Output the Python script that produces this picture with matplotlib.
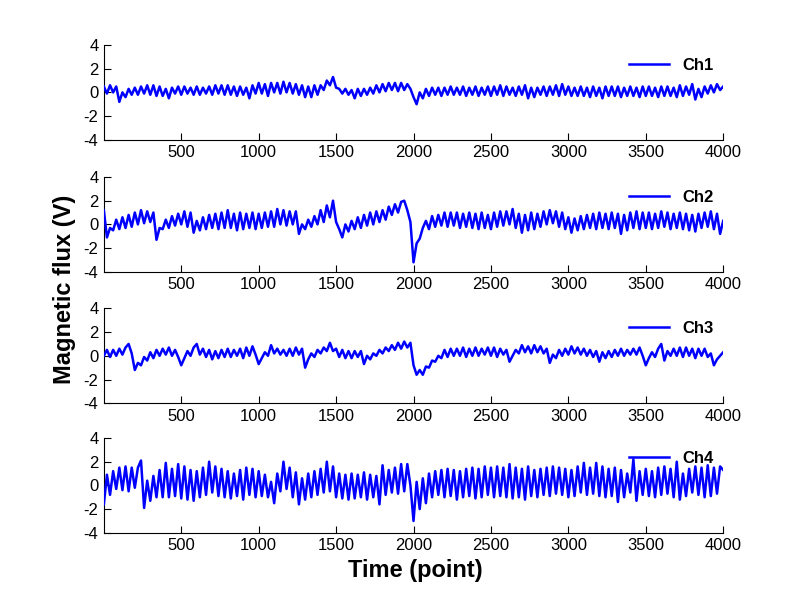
import numpy as np
import matplotlib
matplotlib.use("Agg")
import matplotlib.pyplot as plt

TIME = np.arange(0, 4001, 20)

CH1 = [
    0.5, -0.1, 0.6, 0.0, 0.5, -0.8, 0.0, -0.4, 0.3, -0.2,
    0.4, -0.2, 0.5, -0.1, 0.6, -0.2, 0.6, -0.3, 0.5, -0.3,
    0.3, -0.5, 0.4, -0.1, 0.5, -0.2, 0.5, -0.1, 0.4, -0.2,
    0.5, -0.2, 0.4, -0.1, 0.5, -0.2, 0.6, -0.1, 0.6, -0.2,
    0.6, -0.2, 0.5, -0.3, 0.5, -0.2, 0.4, -0.5, 0.6, -0.1,
    0.8, -0.1, 0.7, -0.3, 0.8, 0.0, 0.8, -0.1, 0.9, 0.0,
    0.8, -0.1, 0.7, -0.2, 0.6, -0.4, 0.5, -0.4, 0.6, -0.2,
    0.6, 0.2, 1.0, 0.6, 1.3, 0.4, 0.3, -0.1, 0.3, -0.2,
    0.2, -0.5, 0.3, -0.3, 0.3, -0.2, 0.4, -0.1, 0.6, 0.0,
    0.7, 0.1, 0.8, 0.2, 0.8, 0.1, 0.8, 0.2, 0.7, 0.3,
    -0.4, -1.0, 0.0, -0.5, 0.3, -0.3, 0.4, -0.2, 0.4, -0.3,
    0.4, -0.2, 0.5, -0.2, 0.4, -0.2, 0.5, -0.3, 0.4, -0.2,
    0.5, -0.3, 0.4, -0.2, 0.5, -0.3, 0.5, -0.2, 0.6, -0.3,
    0.5, -0.2, 0.4, -0.3, 0.5, -0.2, 0.6, -0.5, 0.4, -0.4,
    0.4, -0.2, 0.5, -0.3, 0.5, -0.2, 0.6, -0.3, 0.7, -0.2,
    0.5, -0.3, 0.4, -0.3, 0.5, -0.3, 0.4, -0.4, 0.5, -0.3,
    0.4, -0.5, 0.5, -0.3, 0.5, -0.3, 0.5, -0.4, 0.4, -0.3,
    0.5, -0.3, 0.4, -0.4, 0.5, -0.3, 0.5, -0.3, 0.4, -0.4,
    0.5, -0.3, 0.5, -0.3, 0.4, -0.4, 0.6, -0.3, 0.5, -0.2,
    0.7, -0.6, 0.3, -0.4, 0.5, -0.1, 0.6, 0.0, 0.7, 0.2,
    0.5,
]

CH2 = [
    1.2, -1.1, -0.3, -0.5, 0.4, -0.4, 0.6, -0.3, 0.8, -0.2,
    1.0, 0.0, 1.2, 0.1, 1.1, 0.2, 1.0, -1.3, -0.3, -0.4,
    0.4, -0.3, 0.7, -0.1, 0.9, 0.0, 1.1, -0.2, 1.0, -0.7,
    0.3, -0.5, 0.6, -0.4, 0.8, -0.3, 0.9, -0.4, 1.0, -0.3,
    1.2, -0.3, 0.9, -0.5, 1.0, -0.4, 0.9, -0.3, 1.0, -0.4,
    0.9, -0.3, 1.0, -0.2, 1.1, -0.2, 1.3, 0.0, 1.2, -0.1,
    1.1, 0.0, 1.1, -0.8, 0.0, -0.4, 0.4, -0.2, 0.7, 0.0,
    1.2, 0.2, 1.6, 0.6, 2.0, 0.2, -0.4, -1.1, 0.0, -0.6,
    0.3, -0.4, 0.6, -0.3, 0.8, -0.1, 1.0, 0.0, 1.1, 0.2,
    1.2, 0.4, 1.5, 0.8, 1.7, 1.0, 1.9, 2.0, 1.2, 0.2,
    -3.2, -1.6, -1.2, -0.3, 0.3, -0.4, 0.7, -0.2, 0.8, -0.1,
    1.0, -0.2, 1.0, -0.1, 1.0, -0.3, 0.9, -0.2, 1.0, -0.3,
    0.9, -0.4, 1.0, -0.3, 0.8, -0.4, 1.0, -0.2, 1.1, -0.1,
    1.1, 0.0, 1.3, -0.3, 0.9, -0.7, 0.8, -0.5, 1.0, -0.4,
    0.9, -0.2, 1.1, 0.0, 1.2, 0.1, 1.1, -0.2, 1.0, -0.4,
    0.6, -0.7, 0.5, -0.5, 0.7, -0.4, 0.8, -0.3, 0.9, -0.4,
    1.0, -0.3, 0.9, -0.4, 1.0, -0.3, 0.9, -0.8, 0.8, -0.5,
    1.0, -0.3, 1.1, -0.4, 1.0, -0.3, 1.0, -0.4, 0.9, -0.3,
    1.1, -0.2, 1.0, -0.4, 0.9, -0.3, 1.0, -0.4, 0.9, -0.5,
    0.8, -0.6, 0.9, -0.3, 1.0, -0.2, 1.1, -0.4, 0.9, -0.8,
    0.3,
]

CH3 = [
    0.0, 0.5, -0.1, 0.5, 0.0, 0.6, 0.1, 0.7, 1.0, 0.2,
    -1.2, -0.6, -0.8, -0.1, -0.4, 0.3, -0.2, 0.5, 0.0, 0.6,
    0.1, 0.7, 0.0, 0.5, -0.1, -0.8, -0.2, 0.4, 0.0, 0.7,
    1.0, 0.1, 0.6, -0.1, 0.5, -0.3, 0.4, -0.2, 0.5, -0.1,
    0.6, -0.1, 0.5, 0.0, 0.6, -0.2, 0.7, 0.0, 0.8, 0.1,
    -0.7, -0.2, 0.3, 0.0, 0.9, 0.2, 0.6, 0.1, 0.5, 0.0,
    0.6, 0.0, 0.7, 0.1, 0.6, -1.0, -0.3, 0.2, -0.1, 0.5,
    0.2, 0.7, 0.4, 1.1, 0.4, 0.6, -0.1, 0.5, -0.2, 0.4,
    -0.2, 0.4, -0.1, 0.4, -0.7, 0.0, -0.3, 0.2, 0.0, 0.5,
    0.2, 0.7, 0.4, 0.9, 0.5, 1.1, 0.6, 1.2, 0.7, 1.1,
    -0.8, -1.6, -1.2, -1.6, -0.9, -1.0, -0.4, -0.5, 0.0, -0.2,
    0.5, -0.1, 0.6, 0.0, 0.6, 0.0, 0.7, -0.1, 0.6, 0.0,
    0.7, 0.0, 0.6, 0.1, 0.7, 0.0, 0.7, -0.1, 0.6, 0.1,
    0.5, -0.5, 0.0, 0.5, 0.2, 0.9, 0.3, 0.8, 0.2, 0.9,
    0.3, 0.8, 0.2, 0.6, -0.6, 0.1, -0.2, 0.5, 0.0, 0.6,
    0.1, 0.8, 0.2, 0.7, 0.1, 0.6, 0.0, 0.5, -0.1, 0.4,
    -0.5, 0.3, -0.2, 0.4, -0.1, 0.5, 0.0, 0.6, 0.0, 0.5,
    0.1, 0.6, 0.1, 0.7, 0.0, -0.8, -0.2, 0.3, -0.1, 0.6,
    1.0, -0.4, 0.4, 0.0, 0.6, 0.0, 0.7, -0.1, 0.7, 0.0,
    0.6, -0.2, 0.6, 0.0, 0.6, -0.1, 0.2, -0.8, -0.3, 0.0,
    0.3,
]

CH4 = [
    -1.6, 0.9, -0.8, 1.2, -0.3, 1.5, -0.4, 1.6, -0.5, 1.5,
    -0.2, 1.5, 2.1, -1.9, 0.4, -1.3, 0.8, -1.0, 1.3, -1.0,
    1.9, -1.0, 1.4, -0.9, 1.8, -1.1, 1.6, -1.2, 1.3, -1.3,
    1.2, -1.0, 1.5, -0.8, 2.0, -0.6, 1.6, -0.9, 1.4, -1.0,
    1.2, -1.1, 1.0, -0.9, 1.3, -1.2, 1.5, -0.8, 1.4, -1.0,
    1.2, -0.9, 0.9, -1.0, 0.3, -1.5, 1.0, -0.5, 2.0, -0.3,
    1.5, -1.0, 1.1, -1.6, 0.6, -1.2, 1.0, -1.0, 1.2, -0.8,
    1.4, -0.6, 2.0, -0.5, 1.6, -1.0, 1.0, -1.1, 0.9, -1.2,
    1.0, -1.1, 0.9, -1.0, 1.1, -1.2, 0.9, -1.0, 0.8, -1.6,
    1.7, -0.8, 1.3, -0.6, 1.5, -0.7, 1.8, -0.5, 1.8, 0.0,
    -3.0, 0.3, -2.0, 0.6, -1.5, 1.0, -1.0, 1.2, -0.8, 1.3,
    -1.0, 1.4, -0.9, 1.3, -1.2, 1.2, -1.0, 1.4, -0.9, 1.5,
    -1.1, 1.4, -1.0, 1.6, -0.8, 1.5, -1.0, 1.6, -0.9, 1.5,
    -1.0, 1.8, -1.1, 1.5, -1.0, 1.4, -1.2, 1.6, -0.9, 1.3,
    -1.0, 1.4, -0.8, 1.5, -0.9, 1.6, -0.7, 1.5, -0.8, 1.4,
    -1.0, 1.3, -0.9, 1.6, -0.6, 1.9, -0.8, 1.5, -0.7, 1.9,
    -0.9, 1.6, -1.0, 1.4, -0.9, 1.5, -1.4, 1.3, -1.0, 1.0,
    -0.6, 2.2, -1.3, 1.2, -0.8, 1.4, -0.9, 1.2, -1.0, 1.5,
    -0.8, 1.6, -0.7, 1.4, -1.0, 2.0, -1.2, 1.0, -0.9, 1.4,
    -0.6, 1.6, -0.8, 1.5, -1.0, 1.7, -0.9, 1.5, -0.7, 1.6,
    1.3,
]

CHANNELS = ["Ch1", "Ch2", "Ch3", "Ch4"]
X_TICKS = [500, 1000, 1500, 2000, 2500, 3000, 3500, 4000]
Y_TICKS = [-4, -2, 0, 2, 4]

plt.rcParams["font.family"] = ["Liberation Sans", "DejaVu Sans"]
plt.rcParams["axes.unicode_minus"] = False

fig = plt.figure(figsize=(8, 6), dpi=100)

bottoms = [0.767, 0.547, 0.328, 0.112]
series = [CH1, CH2, CH3, CH4]

for name, values, bottom in zip(CHANNELS, series, bottoms):
    ax = fig.add_axes([0.13, bottom, 0.774, 0.158])
    ax.plot(TIME, values, color="#0000ff", linewidth=1.8, label=name, zorder=3)
    ax.set_xlim(1, 4000)
    ax.set_ylim(-4, 4)
    ax.set_xticks(X_TICKS)
    ax.set_yticks(Y_TICKS)
    ax.spines["top"].set_visible(False)
    ax.spines["right"].set_visible(False)
    ax.tick_params(direction="in", length=5, labelsize=12, pad=4)
    leg = ax.legend(loc="upper right", bbox_to_anchor=(1.0, 0.97), frameon=False,
                    prop={"weight": "bold", "size": 12}, handlelength=2.4,
                    handletextpad=0.8, borderaxespad=0.2)
    leg.set_zorder(1)

fig.text(0.081, 0.518, "Magnetic flux (V)", rotation=90, ha="center", va="center",
         fontsize=17, fontweight="bold")
fig.text(0.519, 0.05, "Time (point)", ha="center", va="center",
         fontsize=17, fontweight="bold")

fig.savefig("out.png", dpi=100)
